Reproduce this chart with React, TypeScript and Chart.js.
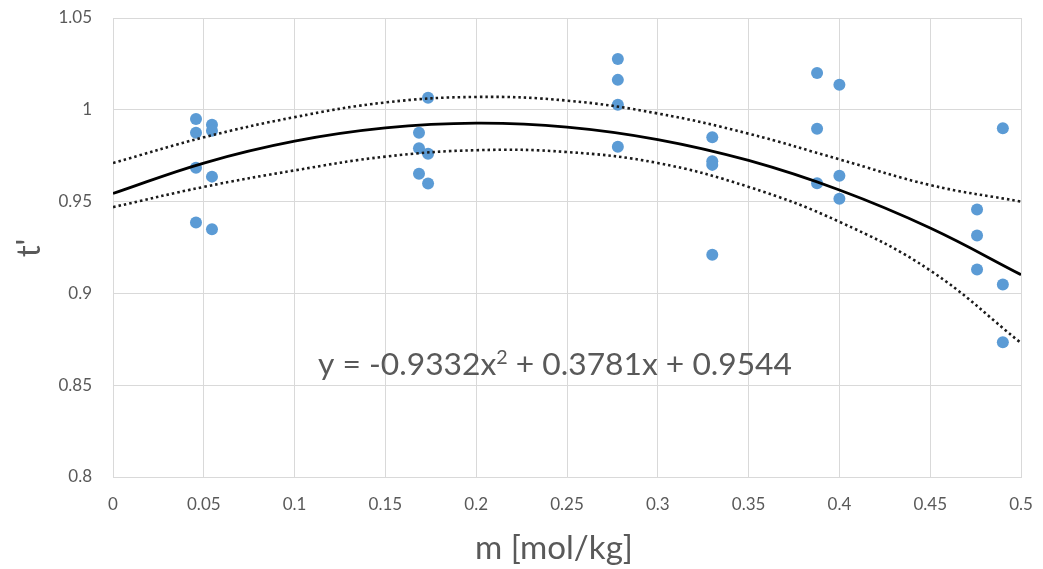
import React, { useEffect, useRef } from 'react';
import { Chart, registerables } from 'chart.js';

Chart.register(...registerables);

// Observed data (m [mol/kg], t')
const obsM = [
  0.0457, 0.0457, 0.0457, 0.0457,
  0.0545, 0.0545, 0.0545, 0.0545,
  0.1685, 0.1685, 0.1685,
  0.1735, 0.1735, 0.1735,
  0.278, 0.278, 0.278, 0.278,
  0.33, 0.33, 0.33, 0.33,
  0.3877, 0.3877, 0.3877,
  0.4, 0.4, 0.4,
  0.4758, 0.4758, 0.4758,
  0.49, 0.49, 0.49,
];
const obsT = [
  0.995, 0.9875, 0.9685, 0.9386,
  0.9918, 0.9886, 0.9636, 0.935,
  0.9875, 0.979, 0.9652,
  1.0065, 0.976, 0.9598,
  1.0277, 1.0163, 1.0027, 0.9799,
  0.985, 0.972, 0.97, 0.921,
  1.02, 0.9897, 0.96,
  1.0136, 0.9641, 0.9516,
  0.9457, 0.9315, 0.913,
  0.99, 0.9049, 0.8734,
];

// Fitted curve and band values read at these m positions
const fitM = [0, 0.05, 0.1, 0.15, 0.2, 0.25, 0.3, 0.35, 0.4, 0.45, 0.5];
const fitT = [0.9544, 0.971, 0.9829, 0.9901, 0.9927, 0.9906, 0.9838, 0.9724, 0.9563, 0.9356, 0.9102];
const upperT = [0.971, 0.985, 0.996, 1.004, 1.007, 1.005, 0.998, 0.987, 0.973, 0.959, 0.95];
const lowerT = [0.947, 0.958, 0.967, 0.9745, 0.978, 0.977, 0.971, 0.958, 0.939, 0.9125, 0.873];

const xTickLabels = ['0', '0.05', '0.1', '0.15', '0.2', '0.25', '0.3', '0.35', '0.4', '0.45', '0.5'];
const yTickLabels = ['0.8', '0.85', '0.9', '0.95', '1', '1.05'];

// equation: base text, superscript, rest
const equationParts = ['y = -0.9332x', '2', ' + 0.3781x + 0.9544'];
const xTitle = 'm [mol/kg]';
const yTitle = "t'";

const FONT = 'Lato, "Open Sans", sans-serif';
const TEXT_COLOR = '#595959';

function fitSize(ctx: CanvasRenderingContext2D, text: string, width: number): number {
  ctx.font = `100px ${FONT}`;
  const w = ctx.measureText(text).width;
  return (100 * width) / w;
}

const textPlugin = {
  id: 'textPlugin',
  afterDraw(chart: any) {
    const ctx: CanvasRenderingContext2D = chart.ctx;
    ctx.save();
    ctx.fillStyle = TEXT_COLOR;
    // equation with superscript
    const supRatio = 0.62;
    ctx.font = `100px ${FONT}`;
    const w0 = ctx.measureText(equationParts[0]).width;
    const w2 = ctx.measureText(equationParts[2]).width;
    ctx.font = `${100 * supRatio}px ${FONT}`;
    const w1 = ctx.measureText(equationParts[1]).width;
    const es = (100 * 474) / (w0 + w1 + w2);
    const k = es / 100;
    let x = 318;
    const base = 375;
    ctx.textAlign = 'left';
    ctx.textBaseline = 'alphabetic';
    ctx.font = `${es}px ${FONT}`;
    ctx.fillText(equationParts[0], x, base);
    x += w0 * k;
    ctx.font = `${es * supRatio}px ${FONT}`;
    ctx.fillText(equationParts[1], x, base - es * 0.36);
    x += w1 * k;
    ctx.font = `${es}px ${FONT}`;
    ctx.fillText(equationParts[2], x, base);
    // x title
    const xs = fitSize(ctx, xTitle, 158);
    ctx.font = `${xs}px ${FONT}`;
    ctx.textAlign = 'center';
    ctx.textBaseline = 'middle';
    ctx.fillText(xTitle, 554, 548);
    // y title
    ctx.translate(29, 248);
    ctx.rotate(-Math.PI / 2);
    ctx.font = `${xs}px ${FONT}`;
    ctx.textAlign = 'center';
    ctx.textBaseline = 'middle';
    ctx.fillText(yTitle, 0, 0);
    ctx.restore();
  },
};

export default function App() {
  const ref = useRef<HTMLCanvasElement | null>(null);

  useEffect(() => {
    if (!ref.current) return;
    const pts = obsM.map((m, i) => ({ x: m, y: obsT[i] }));
    const line = (arr: number[]) => fitM.map((m, i) => ({ x: m, y: arr[i] }));
    const chart = new Chart(ref.current, {
      type: 'scatter',
      data: {
        datasets: [
          {
            label: 'fit',
            data: line(fitT),
            showLine: true,
            borderColor: '#000000',
            borderWidth: 2.8,
            pointRadius: 0,
            tension: 0.4,
            order: 1,
          },
          {
            label: 'upper',
            data: line(upperT),
            showLine: true,
            borderColor: '#1a1a1a',
            borderWidth: 2.6,
            borderDash: [2.5, 3],
            pointRadius: 0,
            tension: 0.4,
            order: 2,
          },
          {
            label: 'lower',
            data: line(lowerT),
            showLine: true,
            borderColor: '#1a1a1a',
            borderWidth: 2.6,
            borderDash: [2.5, 3],
            pointRadius: 0,
            tension: 0.4,
            order: 3,
          },
          {
            label: 'data',
            data: pts,
            backgroundColor: '#5b9bd5',
            borderWidth: 0,
            pointRadius: 6,
            pointHoverRadius: 6,
            order: 10,
          },
        ],
      },
      options: {
        responsive: false,
        animation: false,
        layout: { padding: { top: 18, right: 22, left: 0, bottom: 0 } },
        plugins: {
          legend: { display: false },
          tooltip: { enabled: false },
        },
        scales: {
          x: {
            type: 'linear',
            min: 0,
            max: 0.5,
            afterFit: (s: any) => {
              s.height = 92;
              s.paddingLeft = 0;
              s.paddingRight = 0;
            },
            ticks: {
              stepSize: 0.05,
              padding: 17,
              color: TEXT_COLOR,
              font: { family: FONT, size: 17 },
              maxRotation: 0,
              autoSkip: false,
              callback: (_v: any, i: number) => xTickLabels[i],
            },
            grid: { color: '#d9d9d9', lineWidth: 1, drawTicks: false },
            border: { color: '#d9d9d9', width: 1 },
          },
          y: {
            type: 'linear',
            min: 0.8,
            max: 1.05,
            afterFit: (s: any) => {
              s.width = 113;
              s.paddingTop = 0;
              s.paddingBottom = 0;
            },
            ticks: {
              stepSize: 0.05,
              padding: 21,
              color: TEXT_COLOR,
              font: { family: FONT, size: 17 },
              callback: (_v: any, i: number) => yTickLabels[i],
            },
            grid: { color: '#d9d9d9', lineWidth: 1, drawTicks: false },
            border: { color: '#d9d9d9', width: 1 },
          },
        },
      },
      plugins: [textPlugin],
    });
    return () => chart.destroy();
  }, []);

  return (
    <div style={{ position: 'fixed', left: 0, top: 0, width: 1043, height: 569, background: '#ffffff' }}>
      <canvas ref={ref} width={1043} height={569} />
    </div>
  );
}
